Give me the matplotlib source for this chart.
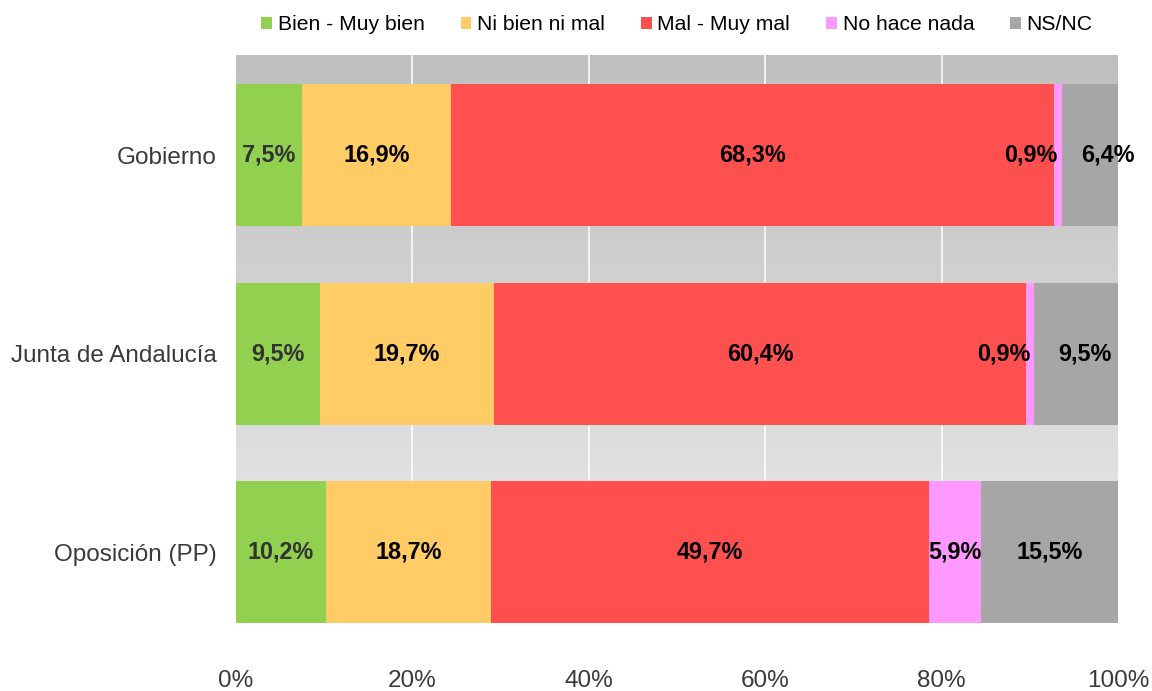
import numpy as np
import matplotlib
matplotlib.use('Agg')
import matplotlib.pyplot as plt
from matplotlib.patches import Patch
from matplotlib.colors import LinearSegmentedColormap

plt.rcParams['font.family'] = ['Liberation Sans', 'DejaVu Sans']

# Datos
categorias = ['Gobierno', 'Junta de Andalucía', 'Oposición (PP)']
series = ['Bien - Muy bien', 'Ni bien ni mal', 'Mal - Muy mal', 'No hace nada', 'NS/NC']
bien = [7.5, 9.5, 10.2]
ni_bien = [16.9, 19.7, 18.7]
mal = [68.3, 60.4, 49.7]
no_hace = [0.9, 0.9, 5.9]
nsnc = [6.4, 9.5, 15.5]
colores = ['#92d050', '#ffcc66', '#ff5050', '#ff99ff', '#a6a6a6']
# desplazamiento horizontal de etiquetas (puntos) para no solaparse
desp = {(0, 3): -19, (0, 4): 13, (1, 3): -19, (1, 4): 6}

valores = [bien, ni_bien, mal, no_hace, nsnc]

fig = plt.figure(figsize=(11.52, 6.91), dpi=100)
ax = fig.add_axes([236 / 1152, 68 / 691, 882 / 1152, 568 / 691])

# Fondo degradado
grad = LinearSegmentedColormap.from_list('g', ['#bfbfbf', '#ececec'])
ax.imshow(np.linspace(0, 1, 256).reshape(-1, 1), cmap=grad, aspect='auto',
          extent=[0, 1, 0, 1], transform=ax.transAxes, zorder=0, origin='upper')

for gx in [20, 40, 60, 80]:
    ax.axvline(gx, color='white', lw=1.1, zorder=1)

y = np.arange(len(categorias))
left = np.zeros(len(categorias))
for j, (nombre, vals, c) in enumerate(zip(series, valores, colores)):
    vals = np.array(vals)
    ax.barh(y, vals, left=left, height=0.715, color=c, zorder=2, label=nombre)
    for i, v in enumerate(vals):
        txt = f'{v:.1f}%'.replace('.', ',')
        ax.annotate(txt, (left[i] + v / 2, y[i]), xytext=(desp.get((i, j), 0), 0),
                    textcoords='offset points', ha='center', va='center',
                    fontsize=16.8, fontweight='bold',
                    color='#333333' if j == 0 else 'black', zorder=3)
    left += vals

ax.set_xlim(0, 100)
ax.set_ylim(2.3575, -0.504)
ax.set_yticks(y)
ax.set_yticklabels(categorias)
ax.set_xticks([0, 20, 40, 60, 80, 100])
ax.set_xticklabels([f'{t}%' for t in [0, 20, 40, 60, 80, 100]])
ax.tick_params(axis='x', length=0, pad=34, labelsize=17.5, labelcolor='#3a3a3a')
ax.tick_params(axis='y', length=0, pad=14, labelsize=17.5, labelcolor='#3a3a3a')
for s in ax.spines.values():
    s.set_visible(False)

handles = [Patch(facecolor=c, label=n) for n, c in zip(series, colores)]
ax.legend(handles=handles, loc='center', bbox_to_anchor=(0.5, 1.053), ncol=5,
          frameon=False, fontsize=15.2, handlelength=0.5, handleheight=0.5,
          handletextpad=0.28, columnspacing=1.7)

plt.savefig('out.png', dpi=100)
